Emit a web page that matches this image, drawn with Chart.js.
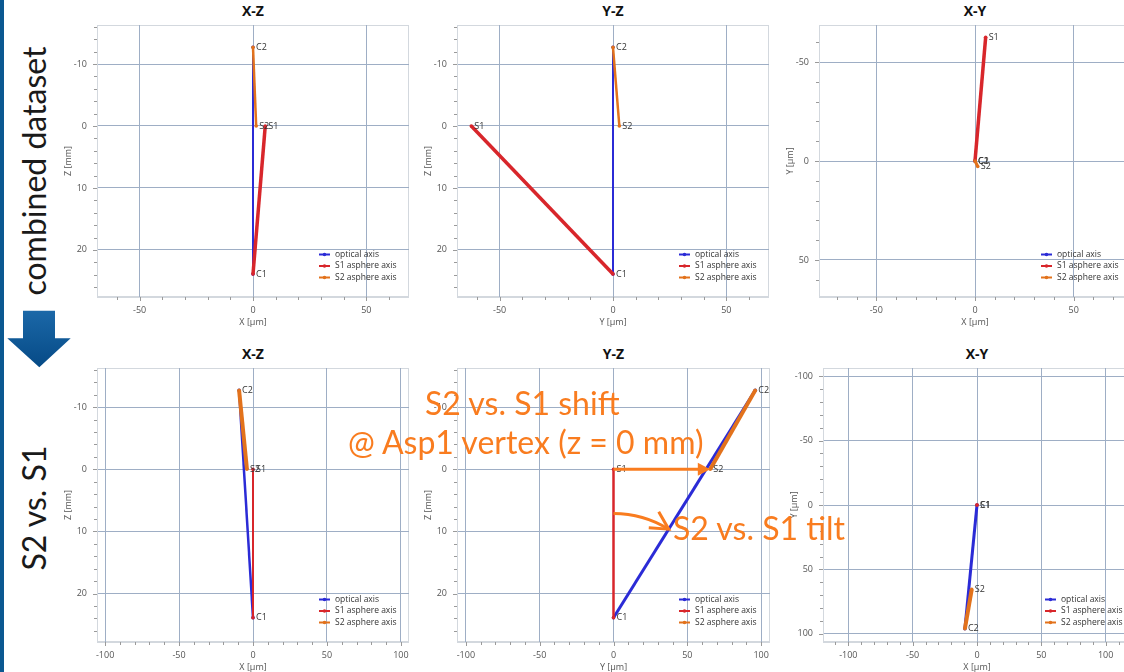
<!DOCTYPE html>
<html>
<head>
<meta charset="utf-8">
<script src="https://cdn.jsdelivr.net/npm/chart.js@4.4.0/dist/chart.umd.min.js"></script>
<style>
  html, body { margin: 0; padding: 0; background: #fff; }
  body { width: 1124px; height: 672px; overflow: hidden; position: relative; font-family: 'Open Sans', sans-serif; }
  .panel { position: absolute; }
  .ptitle { position: absolute; width: 120px; text-align: center; font: bold 14px/16px 'Open Sans', sans-serif; color: #111; }
  .side { position: absolute; font: 32px/38px Lato, sans-serif; color: #1a1a1a; white-space: nowrap; transform: translate(-50%, -50%) rotate(-90deg); }
  .note { position: absolute; font: 32px/38px Lato, sans-serif; color: #f97c1f; white-space: nowrap; }
  #bar { position: absolute; left: 0; top: 0; width: 4px; height: 672px; background: #0b5891; }
</style>
</head>
<body>
<div id="bar"></div>
<svg style="position:absolute;left:0;top:300px" width="80" height="75">
  <defs>
    <linearGradient id="ag" x1="0" y1="0" x2="0" y2="1">
      <stop offset="0" stop-color="#1b68a8"/>
      <stop offset="1" stop-color="#064a86"/>
    </linearGradient>
  </defs>
  <polygon points="23,10.7 55,10.7 55,38.3 70.7,38.3 39.3,67.3 7.3,38.3 23,38.3" fill="url(#ag)"/>
</svg>
<div class="side" style="left:34px;top:171px">combined dataset</div>
<div class="side" style="left:34px;top:508px">S2 vs. S1</div>

<script>
// points along the axes
const pointNames = ['C1', 'C2', 'S1', 'S2'];

// combined dataset: X [µm], Y [µm], Z [mm]
const combinedX = [0, 0, 5.4, 1.4];
const combinedY = [0, 0, -62.5, 2.8];
const combinedZ = [23.9, -12.7, 0, 0];

// S2 vs. S1
const relX = [0, -9.4, 0, -4.1];
const relY = [0, 96, 0, 65.5];
const relZ = [23.9, -12.7, 0, 0];

const seriesNames = ['optical axis', 'S1 asphere axis', 'S2 asphere axis'];
const seriesColors = ['#2b2bd6', '#d8262b', '#e2721c'];
const seriesPoints = [[0, 1], [0, 2], [1, 3]];

// tick labels
const zTicks = [-10, 0, 10, 20];
const umTicksTop = [-50, 0, 50];
const umTicksBottom = [-100, -50, 0, 50, 100];

// annotation: tilt arc drawn at this z [mm]
const tiltArcZ = 7.1;

const W_Y = 40, H_X = 34;
const ORANGE = '#f97c1f';

const panels = [
  { title: 'X-Z', xs: combinedX, ys: combinedZ, xl: 'X [µm]', yl: 'Z [mm]', area: [97, 25, 409, 297],
    xr: [-68.8, 68.8], yr: [-16.3, 27.6], xt: umTicksTop, yt: zTicks, minor: [10, 2], widths: [2, 3.5, 2.5] },
  { title: 'Y-Z', xs: combinedY, ys: combinedZ, xl: 'Y [µm]', yl: 'Z [mm]', area: [457, 25, 769, 297],
    xr: [-68.8, 68.8], yr: [-16.3, 27.6], xt: umTicksTop, yt: zTicks, minor: [10, 2], widths: [2, 3.5, 2.5] },
  { title: 'X-Y', xs: combinedX, ys: combinedY, xl: 'X [µm]', yl: 'Y [µm]', area: [819, 25, 1131, 297],
    xr: [-79, 79], yr: [-68.7, 68.7], xt: umTicksTop, yt: umTicksTop, minor: [10, 10], widths: [2, 3.5, 3] },
  { title: 'X-Z', xs: relX, ys: relZ, xl: 'X [µm]', yl: 'Z [mm]', area: [97, 368, 409, 642],
    xr: [-105.5, 105.5], yr: [-16.3, 27.8], xt: umTicksBottom, yt: zTicks, minor: [10, 2], widths: [2.5, 2, 4] },
  { title: 'Y-Z', xs: relY, ys: relZ, xl: 'Y [µm]', yl: 'Z [mm]', area: [457, 368, 770, 642],
    xr: [-106, 106], yr: [-16.3, 27.8], xt: umTicksBottom, yt: zTicks, minor: [10, 2], widths: [3, 2.5, 4], notes: true },
  { title: 'X-Y', xs: relX, ys: relY, xl: 'X [µm]', yl: 'Y [µm]', area: [823, 368, 1131, 642],
    xr: [-119.7, 119.7], yr: [-106.3, 106.3], xt: umTicksBottom, yt: umTicksBottom, minor: [10, 10], widths: [3, 2.5, 4] }
];

// light frame round the plot box
const frame = {
  id: 'frame',
  beforeDraw(chart) {
    const a = chart.chartArea, ctx = chart.ctx;
    ctx.save();
    ctx.strokeStyle = '#d3d8de';
    ctx.lineWidth = 1;
    ctx.strokeRect(a.left + 0.5, a.top + 0.5, a.right - a.left - 1, a.bottom - a.top - 1);
    ctx.restore();
  }
};

// tick marks outside the box, every minor step
const minorTicks = {
  id: 'minorTicks',
  afterDraw(chart, args, opts) {
    const {x, y} = chart.scales, a = chart.chartArea, ctx = chart.ctx;
    ctx.save();
    ctx.strokeStyle = '#9a9a9a';
    ctx.lineWidth = 1;
    ctx.beginPath();
    for (let v = Math.ceil(x.min / opts.x) * opts.x; v <= x.max; v += opts.x) {
      const px = Math.round(x.getPixelForValue(v)) + 0.5;
      const len = x.ticks.some(t => t.value === v) ? 4 : 3;
      ctx.moveTo(px, a.bottom); ctx.lineTo(px, a.bottom + len);
    }
    for (let v = Math.ceil(y.min / opts.y) * opts.y; v <= y.max; v += opts.y) {
      const py = Math.round(y.getPixelForValue(v)) + 0.5;
      const len = y.ticks.some(t => t.value === v) ? 4 : 3;
      ctx.moveTo(a.left - len, py); ctx.lineTo(a.left, py);
    }
    ctx.stroke();
    ctx.restore();
  }
};

// C1 / C2 / S1 / S2 next to the points
const pointLabels = {
  id: 'pointLabels',
  afterDatasetsDraw(chart) {
    const ctx = chart.ctx, done = new Set();
    ctx.save();
    ctx.font = '9px "Open Sans"';
    ctx.fillStyle = '#333';
    ctx.textBaseline = 'middle';
    chart.data.datasets.forEach((ds, di) => {
      chart.getDatasetMeta(di).data.forEach((el, i) => {
        const n = ds.data[i].name;
        if (done.has(n)) return;
        done.add(n);
        ctx.fillText(n, el.x + 3, el.y);
      });
    });
    ctx.restore();
  }
};

// legend inside the plot, bottom right
const innerLegend = {
  id: 'innerLegend',
  afterDraw(chart) {
    const a = chart.chartArea, ctx = chart.ctx;
    const x0 = a.left + 222;
    ctx.save();
    ctx.font = '8.5px "Open Sans"';
    ctx.textBaseline = 'middle';
    chart.data.datasets.forEach((ds, i) => {
      const y = a.bottom - 42.5 + i * 11.5;
      ctx.strokeStyle = ds.borderColor;
      ctx.fillStyle = ds.borderColor;
      ctx.lineWidth = 2;
      ctx.beginPath(); ctx.moveTo(x0, y); ctx.lineTo(x0 + 11, y); ctx.stroke();
      ctx.beginPath(); ctx.arc(x0 + 5.5, y, 1.8, 0, Math.PI * 2); ctx.fill();
      ctx.fillStyle = '#333';
      ctx.fillText(ds.label, x0 + 16, y);
    });
    ctx.restore();
  }
};

function arrowHead(ctx, tx, ty, ang, len, spread, filled) {
  const p1 = [tx - len * Math.cos(ang - spread), ty - len * Math.sin(ang - spread)];
  const p2 = [tx - len * Math.cos(ang + spread), ty - len * Math.sin(ang + spread)];
  ctx.beginPath();
  ctx.moveTo(p1[0], p1[1]); ctx.lineTo(tx, ty); ctx.lineTo(p2[0], p2[1]);
  if (filled) { ctx.closePath(); ctx.fill(); } else ctx.stroke();
}

// shift and tilt arrows in the S2 vs. S1 Y-Z view
const shiftTilt = {
  id: 'shiftTilt',
  afterDatasetsDraw(chart) {
    const {x, y} = chart.scales, ctx = chart.ctx;
    ctx.save();
    ctx.strokeStyle = ORANGE; ctx.fillStyle = ORANGE;
    ctx.lineWidth = 3;
    // shift: S1 -> S2 at z = 0
    const sx = x.getPixelForValue(relY[2]), sy = y.getPixelForValue(relZ[2]);
    const tx = x.getPixelForValue(relY[3]), ty = y.getPixelForValue(relZ[3]);
    ctx.beginPath(); ctx.moveTo(sx, sy); ctx.lineTo(tx - 12, ty); ctx.stroke();
    arrowHead(ctx, tx, ty, 0, 14, 0.48, true);
    // tilt: arc around C1 from S1 axis to optical axis
    const cx = x.getPixelForValue(relY[0]), cy = y.getPixelForValue(relZ[0]);
    const r = cy - y.getPixelForValue(tiltArcZ);
    const a0 = Math.atan2(sy - cy, sx - cx);
    const a1 = Math.atan2(y.getPixelForValue(relZ[1]) - cy, x.getPixelForValue(relY[1]) - cx);
    ctx.lineWidth = 3;
    ctx.beginPath(); ctx.arc(cx, cy, r, a0, a1); ctx.stroke();
    const ex = cx + r * Math.cos(a1), ey = cy + r * Math.sin(a1);
    arrowHead(ctx, ex, ey, a1 + Math.PI / 2, 20, 0.49, false);
    ctx.restore();
  }
};

function axis(range, ticks, label, pos) {
  const left = pos === 'left';
  return {
    type: 'linear', position: pos, min: range[0], max: range[1], reverse: left,
    afterBuildTicks: s => { s.ticks = ticks.map(v => ({value: v})); },
    afterFit: s => {
      if (left) { s.width = W_Y; s.paddingTop = 0; s.paddingBottom = 0; }
      else { s.height = H_X; s.paddingLeft = 0; s.paddingRight = 0; }
    },
    ticks: { font: { family: 'Open Sans', size: 9 }, color: '#555', padding: 0, autoSkip: false, maxRotation: 0 },
    grid: { color: '#9eaec5', lineWidth: 1, tickLength: left ? 10 : 8, tickColor: 'rgba(0,0,0,0)' },
    border: { display: true, color: '#d3d8de' },
    title: { display: true, text: label, color: '#555', font: { family: 'Open Sans', size: 9 },
             padding: left ? { top: 6.5, bottom: 0 } : { top: 0, bottom: 3 } }
  };
}

panels.forEach(p => {
  const [l, t, r, b] = p.area;
  const div = document.createElement('div');
  div.className = 'panel';
  div.style.left = (l - W_Y) + 'px';
  div.style.top = t + 'px';
  div.style.width = (r - l + W_Y) + 'px';
  div.style.height = (b - t + H_X) + 'px';
  const cv = document.createElement('canvas');
  div.appendChild(cv);
  document.body.appendChild(div);

  const ttl = document.createElement('div');
  ttl.className = 'ptitle';
  ttl.textContent = p.title;
  ttl.style.left = ((l + r) / 2 - 60) + 'px';
  ttl.style.top = (t < 100 ? 3 : 346) + 'px';
  document.body.appendChild(ttl);

  const datasets = seriesNames.map((name, k) => ({
    label: name,
    data: seriesPoints[k].map(i => ({ x: p.xs[i], y: p.ys[i], name: pointNames[i] })),
    showLine: true,
    borderColor: seriesColors[k],
    backgroundColor: seriesColors[k],
    borderWidth: p.widths[k],
    pointRadius: 1.8,
    pointBorderWidth: 0,
    order: 3 - k
  }));

  const plugins = [frame, minorTicks, pointLabels, innerLegend];
  if (p.notes) plugins.push(shiftTilt);

  new Chart(cv, {
    type: 'scatter',
    data: { datasets },
    options: {
      responsive: true, maintainAspectRatio: false, animation: false,
      layout: { padding: 0, autoPadding: false },
      plugins: { legend: { display: false }, tooltip: { enabled: false }, minorTicks: { x: p.minor[0], y: p.minor[1] } },
      scales: { x: axis(p.xr, p.xt, p.xl, 'bottom'), y: axis(p.yr, p.yt, p.yl, 'left') }
    },
    plugins
  });
});
</script>
<div class="note" style="left:425px;top:384px">S2 vs. S1 shift</div>
<div class="note" style="left:348px;top:423px">@ Asp1 vertex (z = 0 mm)</div>
<div class="note" style="left:673px;top:509px">S2 vs. S1 tilt</div>
</body>
</html>
